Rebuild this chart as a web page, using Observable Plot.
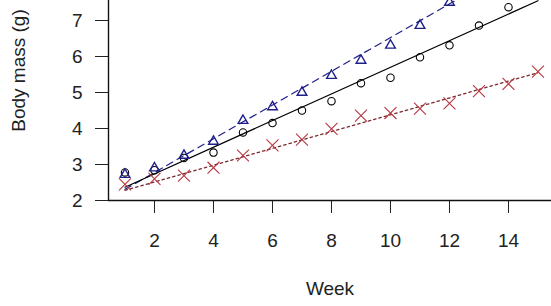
<!DOCTYPE html>
<html>
<head>
<meta charset="utf-8">
<script src="https://cdn.jsdelivr.net/npm/d3@7"></script>
<script src="https://cdn.jsdelivr.net/npm/@observablehq/plot@0.6"></script>
<style>
  html, body { margin: 0; padding: 0; background: #fff; }
  #chart { width: 551px; height: 306px; overflow: hidden; }
</style>
</head>
<body>
<div id="chart"></div>
<script>
// ---- data ----
const xTicks = [2, 4, 6, 8, 10, 12, 14];
const yTicks = [2, 3, 4, 5, 6, 7];

// black open circles (solid fitted line)
const circleWeeks = [1, 2, 3, 4, 5, 6, 7, 8, 9, 10, 11, 12, 13, 14];
const circleMass  = [2.78, 2.84, 3.18, 3.33, 3.89, 4.15, 4.50, 4.76, 5.26, 5.41, 5.98, 6.31, 6.86, 7.37];

// blue open triangles (dashed fitted line)
const triangleWeeks = [1, 2, 3, 4, 5, 6, 7, 8, 9, 10, 11, 12];
const triangleMass  = [2.72, 2.90, 3.25, 3.64, 4.22, 4.60, 5.00, 5.47, 5.89, 6.31, 6.86, 7.50];

// red crosses (dotted fitted line)
const crossWeeks = [1, 2, 3, 4, 5, 6, 7, 8, 9, 10, 11, 12, 13, 14, 15];
const crossMass  = [2.45, 2.60, 2.69, 2.91, 3.25, 3.53, 3.69, 3.99, 4.36, 4.43, 4.55, 4.70, 5.04, 5.24, 5.58];

// fitted lines: end points
const solidLineWeeks  = [1, 15];
const solidLineMass   = [2.37, 7.55];
const dashedLineWeeks = [1, 12.2];
const dashedLineMass  = [2.31, 7.556];
const dottedLineWeeks = [1, 15];
const dottedLineMass  = [2.28, 5.55];

const xLabel = "Week";
const yLabel = "Body mass (g)";

// ---- build tables ----
const zip = (xs, ys) => xs.map((x, i) => ({week: x, mass: ys[i]}));
const circles = zip(circleWeeks, circleMass);
const triangles = zip(triangleWeeks, triangleMass);
const crosses = zip(crossWeeks, crossMass);
const solidLine = zip(solidLineWeeks, solidLineMass);
const dashedLine = zip(dashedLineWeeks, dashedLineMass);
const dottedLine = zip(dottedLineWeeks, dottedLineMass);

const navy = "#1f1f8a";
const red = "#b8363f";
const darkRed = "#7a2a30";

const chart = Plot.plot({
  width: 551,
  height: 306,
  marginLeft: 108,
  marginRight: 0,
  marginTop: 0,
  marginBottom: 106,
  style: {fontFamily: "'Liberation Sans', Arial, sans-serif", fontSize: "19px", color: "#222", background: "white"},
  x: {domain: [0.441, 15.458], ticks: xTicks, tickFormat: "d", tickSize: 13, tickPadding: 20, label: null},
  y: {domain: [2, 7.556], ticks: yTicks, tickFormat: "d", tickSize: 13, tickPadding: 13, label: null},
  marks: [
    Plot.ruleX([0.441], {stroke: "#111", strokeWidth: 1.4}),
    Plot.ruleY([2], {stroke: "#111", strokeWidth: 1.4}),
    Plot.line(dottedLine, {x: "week", y: "mass", stroke: darkRed, strokeWidth: 1.3, strokeDasharray: "2.5,3"}),
    Plot.line(dashedLine, {x: "week", y: "mass", stroke: navy, strokeWidth: 1.2, strokeDasharray: "7,5"}),
    Plot.line(solidLine, {x: "week", y: "mass", stroke: "black", strokeWidth: 1.2}),
    Plot.dot(crosses, {x: "week", y: "mass", symbol: "times", r: 5.5, stroke: red, strokeWidth: 1.1}),
    Plot.dot(circles, {x: "week", y: "mass", symbol: "circle", r: 3.7, stroke: "black", strokeWidth: 1.1, fill: "none"}),
    Plot.dot(triangles, {x: "week", y: "mass", symbol: "triangle", r: 3.6, stroke: navy, strokeWidth: 1.4, fill: "none"}),
    Plot.text([xLabel], {text: d => d, frameAnchor: "bottom", dy: 88, textAnchor: "middle", lineAnchor: "middle", fontSize: 19, fill: "#222"}),
    Plot.text([yLabel], {text: d => d, frameAnchor: "left", dx: -90, dy: -30, rotate: -90, textAnchor: "middle", lineAnchor: "middle", fontSize: 19, fill: "#222"})
  ]
});
document.getElementById("chart").appendChild(chart);
</script>
</body>
</html>
